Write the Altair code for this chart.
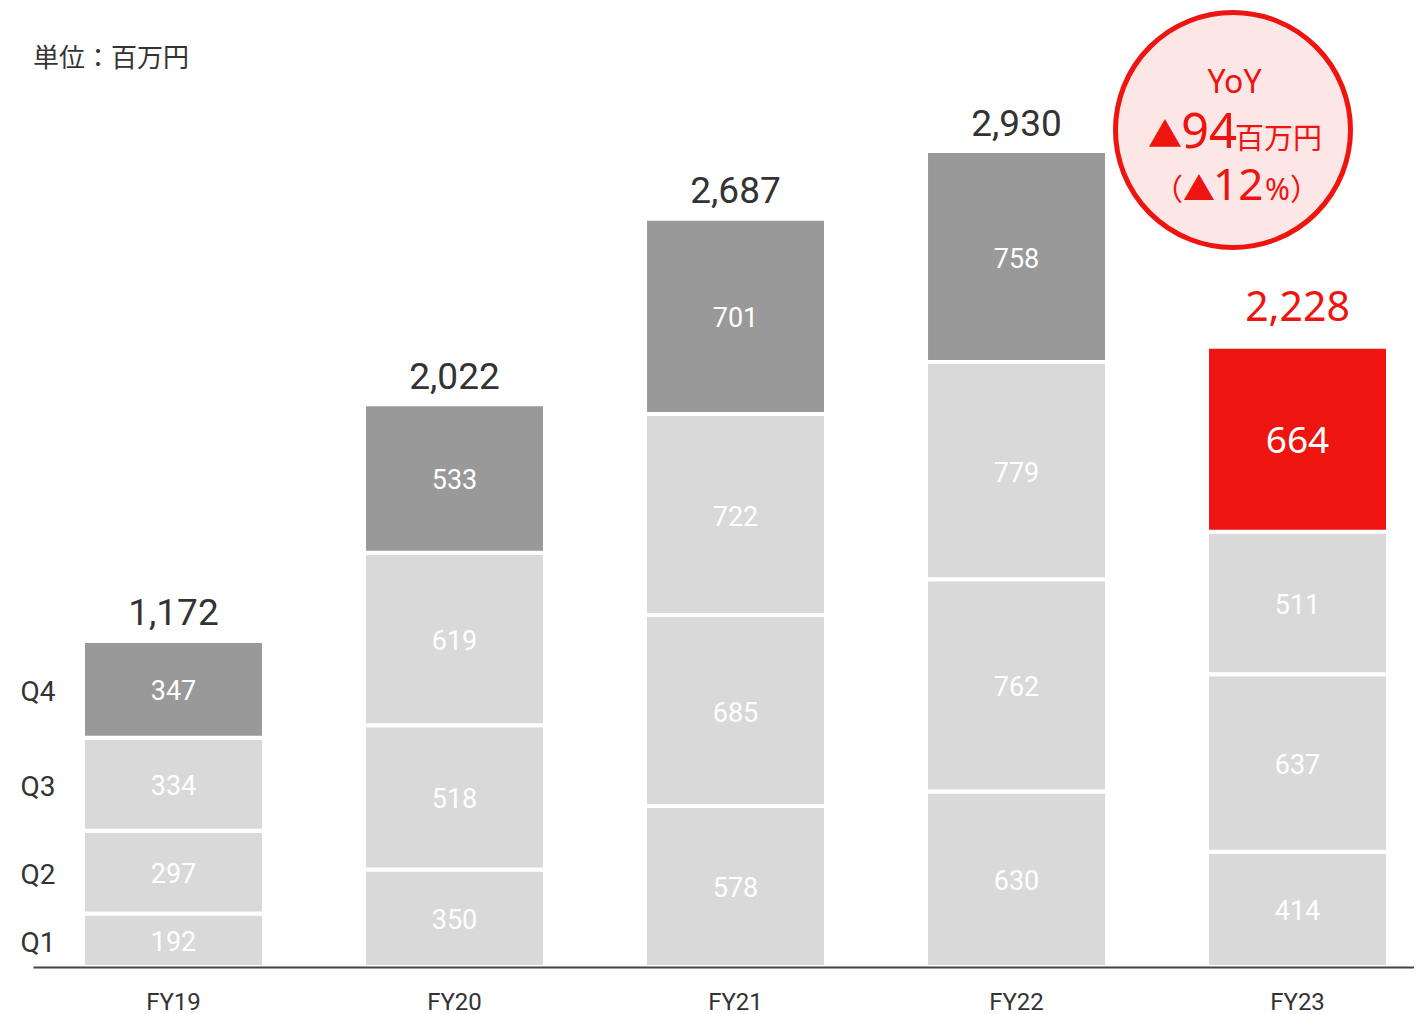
import altair as alt
import pandas as pd

years = ["FY19", "FY20", "FY21", "FY22", "FY23"]
quarters = ["Q1", "Q2", "Q3", "Q4"]
q1 = [192, 350, 578, 630, 414]
q2 = [297, 518, 685, 762, 637]
q3 = [334, 619, 722, 779, 511]
q4 = [347, 533, 701, 758, 664]
totals = [1172, 2022, 2687, 2930, 2228]
total_labels = ["1,172", "2,022", "2,687", "2,930", "2,228"]

RED = "#ee1410"
DARK = "#333333"

rows = []
for i, y in enumerate(years):
    start = 0
    for q, vals in zip(quarters, [q1, q2, q3, q4]):
        v = vals[i]
        kind = "light"
        if q == "Q4":
            kind = "red" if y == "FY23" else "dark"
        rows.append({"year": y, "q": q, "value": v, "start": start,
                     "end": start + v, "mid": start + v / 2, "kind": kind})
        start += v
seg = pd.DataFrame(rows)
tot = pd.DataFrame({"year": years, "total": totals, "label": total_labels})

xscale = alt.Scale(domain=years, paddingInner=0.356, paddingOuter=0.1352, align=0.658)
yscale = alt.Scale(domain=[0, 3442], nice=False, zero=True)
X = alt.X("year:N", scale=xscale, sort=years,
          axis=alt.Axis(title=None, ticks=False, tickSize=0, labelAngle=0,
                        labelFont="Roboto", labelFontSize=24, labelColor=DARK,
                        labelPadding=23, domainColor="#444444", domainWidth=2,
                        zindex=1))

bars = alt.Chart(seg).mark_bar(stroke="white", strokeWidth=4).encode(
    x=X,
    y=alt.Y("start:Q", scale=yscale, axis=None),
    y2="end:Q",
    color=alt.Color("kind:N", legend=None,
                    scale=alt.Scale(domain=["light", "dark", "red"],
                                    range=["#d9d9d9", "#999999", RED])),
)

seg_norm = seg[seg["kind"] != "red"]
seg_red = seg[seg["kind"] == "red"]

seg_text = alt.Chart(seg_norm).mark_text(font="Roboto", fontSize=27, color="white",
                                         baseline="middle", dy=3).encode(
    x=alt.X("year:N", scale=xscale, sort=years), y=alt.Y("mid:Q", scale=yscale),
    text="value:Q")
seg_text_red = alt.Chart(seg_red).mark_text(font="Noto Sans", fontSize=37, color="white",
                                            baseline="middle", dy=3).encode(
    x=alt.X("year:N", scale=xscale, sort=years), y=alt.Y("mid:Q", scale=yscale),
    text="value:Q")

tot_norm = tot[tot["year"] != "FY23"]
tot_red = tot[tot["year"] == "FY23"]
tot_text = alt.Chart(tot_norm).mark_text(font="Roboto", fontSize=37, color=DARK,
                                         baseline="alphabetic", dy=-15).encode(
    x=alt.X("year:N", scale=xscale, sort=years), y=alt.Y("total:Q", scale=yscale),
    text="label:N")
tot_text_red = alt.Chart(tot_red).mark_text(font="Noto Sans", fontSize=41, color=RED,
                                            baseline="alphabetic", dy=-25).encode(
    x=alt.X("year:N", scale=xscale, sort=years), y=alt.Y("total:Q", scale=yscale),
    text="label:N")

fy19 = seg[seg["year"] == "FY19"]
q_text = alt.Chart(fy19).mark_text(font="Roboto", fontSize=28, color=DARK,
                                   baseline="middle", align="center", dy=4).encode(
    x=alt.value(5), y=alt.Y("mid:Q", scale=yscale), text="q:N")

one = pd.DataFrame({"a": [0]})

def note(text, x, y, size, font="Noto Sans", color=RED, align="left", baseline="alphabetic"):
    return alt.Chart(one).mark_text(text=text, font=font, fontSize=size, color=color,
                                    align=align, baseline=baseline).encode(
        x=alt.value(x), y=alt.value(y))

unit = note("単位：百万円", 0, 59, 26, font="Noto Sans CJK JP", color=DARK)

circle = alt.Chart(one).mark_point(shape="circle", size=55225, filled=False,
                                   fill="#fde6e6", fillOpacity=1, stroke=RED,
                                   strokeWidth=5, opacity=1).encode(
    x=alt.value(1200), y=alt.value(122))

yoy = note("YoY", 1201.5, 85, 32, align="center")
tri1 = note("▲", 1132, 139, 34, font="Noto Sans CJK JP", align="center")
n94 = note("94", 1148, 140, 49)
unit2 = note("百万円", 1202, 141, 29, font="Noto Sans CJK JP")
lp = note("（", 1150, 192, 30, font="Noto Sans CJK JP", align="right")
tri2 = note("▲", 1166, 192, 32, font="Noto Sans CJK JP", align="center")
n12 = note("12", 1180, 192, 44)
pct = note("%", 1232, 192, 30)
rp = note("）", 1257, 192, 30, font="Noto Sans CJK JP")

chart = alt.layer(
    bars, seg_text, seg_text_red, tot_text, tot_text_red, q_text, unit,
    circle, yoy, tri1, n94, unit2, lp, tri2, n12, pct, rp
).properties(
    width=1381, height=959,
    padding={"left": 25, "top": 0, "right": 0, "bottom": 46},
    autosize="none",
).configure_view(stroke=None)

chart.save("out.html", embed_options={"renderer": "svg", "actions": False})
